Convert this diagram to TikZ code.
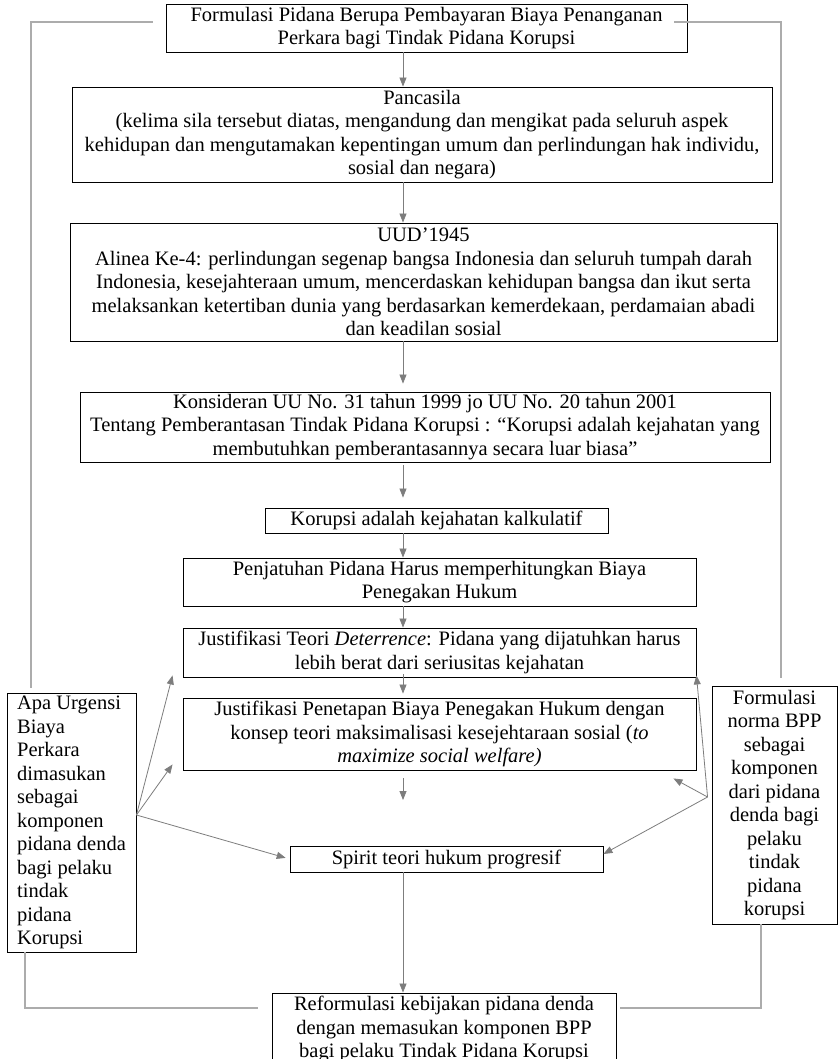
\documentclass[tikz,border=0pt]{standalone}
\usepackage{fontspec}
\setmainfont{Liberation Serif}
\usepackage{xcolor}
\definecolor{abupanah}{RGB}{125, 125, 125}
\definecolor{abugaris}{RGB}{172, 172, 172}
\usetikzlibrary{arrows.meta, positioning}

\begin{document}
\begin{tikzpicture}[x=1pt, y=1pt,
    kotak/.style={draw, line width=0.9pt, inner sep=0pt, align=center, font=\fontsize{20.5}{23.5}\selectfont},
    panah/.style={draw=abupanah, line width=0.8pt, -{Triangle[length=9pt, width=7pt]}},
    garis/.style={draw=abugaris, line width=1.1pt}]
        \fill[white] (0,0) rectangle (838,-1059);
        \useasboundingbox (0,0) rectangle (838,-1059);
        \coordinate (poros) at (403,0);
        \node[kotak, minimum width=521, minimum height=48] (formulasi) at (426.5,-28) {Formulasi Pidana Berupa Pembayaran Biaya Penanganan\\ Perkara bagi Tindak Pidana Korupsi};
        \node[kotak, minimum width=700, minimum height=95] (pancasila) at (422,-134.5) {Pancasila\\ (kelima sila tersebut diatas, mengandung dan mengikat pada seluruh aspek\\ kehidupan dan mengutamakan kepentingan umum dan perlindungan hak individu,\\ sosial dan negara)};
        \node[kotak, minimum width=707, minimum height=118] (uud) at (423.5,-282) {UUD’1945\\ Alinea Ke-4: perlindungan segenap bangsa Indonesia dan seluruh tumpah darah\\ Indonesia, kesejahteraan umum, mencerdaskan kehidupan bangsa dan ikut serta\\ melaksankan ketertiban dunia yang berdasarkan kemerdekaan, perdamaian abadi\\ dan keadilan sosial};
        \node[kotak, minimum width=690, minimum height=70] (konsideran) at (425,-427) {Konsideran UU No. 31 tahun 1999 jo UU No. 20 tahun 2001\\ Tentang Pemberantasan Tindak Pidana Korupsi : “Korupsi adalah kejahatan yang\\ membutuhkan pemberantasannya secara luar biasa”};
        \node[kotak, minimum width=343, minimum height=25] (kalkulatif) at (436.5,-520.5) {Korupsi adalah kejahatan kalkulatif};
        \node[kotak, minimum width=513, minimum height=48] (penjatuhan) at (439.5,-582) {Penjatuhan Pidana Harus memperhitungkan Biaya\\ Penegakan Hukum};
        \node[kotak, minimum width=513, minimum height=49] (deterrence) at (439.5,-652.5) {Justifikasi Teori \textit{Deterrence}: Pidana yang dijatuhkan harus\\ lebih berat dari seriusitas kejahatan};
        \node[kotak, minimum width=513, minimum height=72] (penetapan) at (439.5,-734) {Justifikasi Penetapan Biaya Penegakan Hukum dengan\\ konsep teori maksimalisasi kesejehtaraan sosial (\textit{to}\\ \textit{maximize social welfare)}};
        \node[kotak, minimum width=313, minimum height=26] (spirit) at (446.5,-859) {Spirit teori hukum progresif};
        \node[kotak, minimum width=344, minimum height=72] (reform) at (444,-1029) {Reformulasi kebijakan pidana denda\\ dengan memasukan komponen BPP\\ bagi pelaku Tindak Pidana Korupsi};
        \node[kotak, align=left, minimum width=129, minimum height=259] (apa) at (71.5,-822.5) {Apa Urgensi\\ Biaya\\ Perkara\\ dimasukan\\ sebagai\\ komponen\\ pidana denda\\ bagi pelaku\\ tindak\\ pidana\\ Korupsi};
        \node[kotak, minimum width=125, minimum height=238] (norma) at (774.5,-805) {Formulasi\\ norma BPP\\ sebagai\\ komponen\\ dari pidana\\ denda bagi\\ pelaku\\ tindak\\ pidana\\ korupsi};
        \coordinate (bebas) at (403,-800);

        \draw[panah] (formulasi.south -| poros) -- (pancasila.north -| poros);
        \draw[panah] (pancasila.south -| poros) -- (uud.north -| poros);
        \draw[panah, shorten >=8pt] (uud.south -| poros) -- (konsideran.north -| poros);
        \draw[panah, shorten >=10pt, shorten <=3pt] (konsideran.south -| poros) -- (kalkulatif.north -| poros);
        \draw[panah] (kalkulatif.south -| poros) -- (penjatuhan.north -| poros);
        \draw[panah] (penjatuhan.south -| poros) -- (deterrence.north -| poros);
        \draw[panah, shorten >=4pt] ([yshift=3pt]deterrence.south -| poros) -- (penetapan.north -| poros);
        \draw[panah] ([yshift=-8pt]penetapan.south -| poros) -- (bebas);
        \draw[panah] (spirit.south -| poros) -- (reform.north -| poros);

        \draw[panah] ([yshift=7.5pt]apa.east) -- ([xshift=-10pt, yshift=2pt]deterrence.south west);
        \draw[panah] ([yshift=7.5pt]apa.east) -- ([xshift=-10pt, yshift=6pt]penetapan.south west);
        \draw[panah, shorten >=4pt] ([yshift=7.5pt]apa.east) -- (spirit.west);
        \draw[panah] ([xshift=-4pt, yshift=8pt]norma.west) -- ([yshift=2pt]deterrence.south east);
        \draw[panah] ([xshift=-4pt, yshift=8pt]norma.west) -- ([xshift=-23pt, yshift=-8pt]penetapan.south east);
        \draw[panah] ([xshift=-4pt, yshift=8pt]norma.west) -- ([yshift=5pt]spirit.east);

        \draw[garis] ([xshift=-13pt, yshift=6pt]formulasi.west) -| ([xshift=-40.5pt, yshift=5pt]apa.north);
        \draw[garis] ([xshift=-13pt, yshift=6pt]formulasi.east) -| ([xshift=6.5pt, yshift=8pt]norma.north);
        \draw[garis] ([xshift=-46.5pt]apa.south) |- ([xshift=-14pt, yshift=21pt]reform.west);
        \draw[garis] ([xshift=-13.5pt]norma.south) |- ([xshift=4pt, yshift=21pt]reform.east);
    \end{tikzpicture}
\end{document}
